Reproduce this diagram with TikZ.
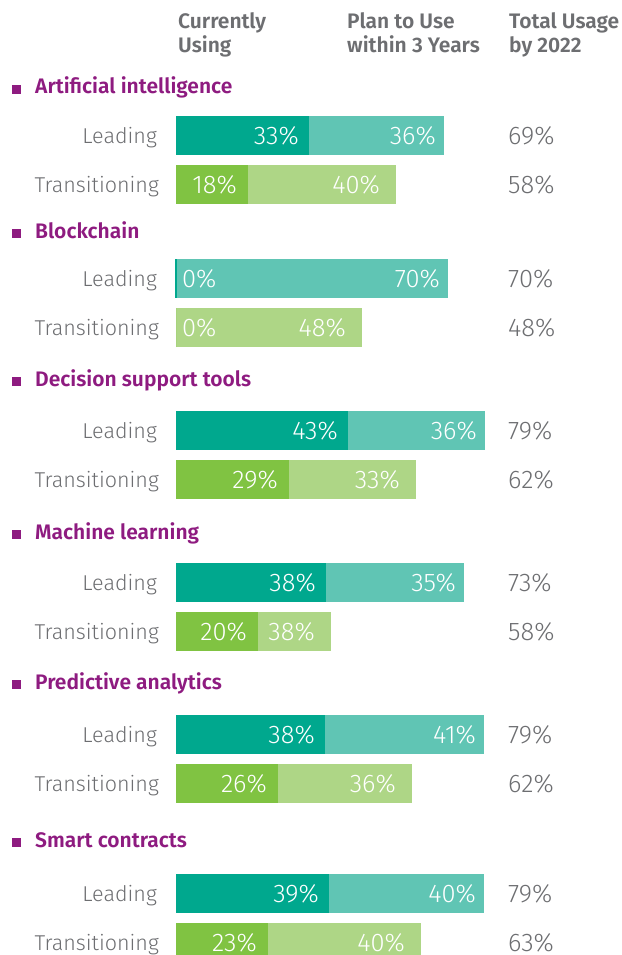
\documentclass[tikz,border=0pt]{standalone}
\usepackage{fontspec}
\setmainfont{Fira Sans Light}[BoldFont={Fira Sans SemiBold}]

\definecolor{curlead}{HTML}{00A88E}
\definecolor{planlead}{HTML}{60C5B4}
\definecolor{curtrans}{HTML}{80C342}
\definecolor{plantrans}{HTML}{AED686}
\definecolor{secpurple}{HTML}{8E1B80}
\definecolor{txtgray}{HTML}{6D6E71}

\tikzset{
  colhead/.style={anchor=north west,inner sep=0pt,align=left,text=txtgray,
    font=\bfseries\fontsize{21}{24}\selectfont},
  sect/.style={anchor=base west,inner sep=0pt,text=secpurple,
    font=\bfseries\fontsize{21}{24}\selectfont},
  bullet/.style={fill=secpurple,minimum size=9pt,inner sep=0pt},
  rowlbl/.style={anchor=east,inner sep=0pt,text=txtgray,text height=15pt,
    text depth=0pt,font=\fontsize{21.5}{24}\selectfont},
  barnum/.style={anchor=east,inner sep=0pt,text=white,text height=18pt,
    text depth=0pt,font=\fontsize{25.5}{28}\selectfont},
  totnum/.style={barnum,anchor=west,text=txtgray}
}

\begin{document}
\begin{tikzpicture}[x=1pt,y=-1pt]
\useasboundingbox (0,0) rectangle (621,955);

% column heads
\node[colhead] (hcur) at (178,12) {Currently\\Using};
\node[colhead] (hplan) at (347,12) {Plan to Use\\within 3 Years};
\node[colhead] (htot) at (509,12) {Total Usage\\by 2022};

% one block per technology: title, leading row, transitioning row
\foreach \i/\ttl/\ty/\lt/\la/\lb/\lv/\lw/\lx/\ta/\tb/\tv/\tw/\tx in {
  1/Artificial intelligence/94/116/308/444/33/36/69/248/396/18/40/58,
  2/Blockchain/238/259/176/448/0/70/70/176/362/0/48/48,
  3/Decision support tools/386/411/347/485/43/36/79/289/416/29/33/62,
  4/Machine learning/539/563/325/464/38/35/73/258/331/20/38/58,
  5/Predictive analytics/689/715/324/484/38/41/79/278/412/26/36/62,
  6/Smart contracts/847/874/328/484/39/40/79/268/421/23/40/63}{
  \pgfmathsetmacro\ly{\lt+19.5}
  \pgfmathsetmacro\tyy{\lt+68.5}
  \node[bullet] (sq\i) at (16.5,\ty-4.5) {};
  \node[sect] (ttl\i) at (35,\ty) {\ttl};
  % leading
  \fill[planlead] (176,\lt) rectangle (\lb,\lt+39);
  \filldraw[curlead,line width=1.2pt] (176.6,\lt+0.6) rectangle (\la,\lt+38.4);
  \node[rowlbl] (lead\i) at (157,\ly) {Leading};
  \ifnum\la<200
    \node[barnum,anchor=west] (cl\i) at (182,\ly) {\lv\%};
  \else
    \node[barnum] (cl\i) at (\la-9,\ly) {\lv\%};
  \fi
  \node[barnum] (pl\i) at (\lb-8,\ly) {\lw\%};
  \node[totnum] (tl\i) at (508,\ly) {\lx\%};
  % transitioning
  \fill[plantrans] (176,\lt+49) rectangle (\tb,\lt+88);
  \fill[curtrans] (176,\lt+49) rectangle (\ta,\lt+88);
  \node[rowlbl] (trans\i) at (159,\tyy) {Transitioning};
  \ifnum\ta<200
    \node[barnum,anchor=west] (ct\i) at (182,\tyy) {\tv\%};
  \else
    \node[barnum] (ct\i) at (\ta-11,\tyy) {\tv\%};
  \fi
  \node[barnum] (pt\i) at (\tb-16,\tyy) {\tw\%};
  \node[totnum] (tt\i) at (508,\tyy) {\tx\%};
}
\end{tikzpicture}
\end{document}
